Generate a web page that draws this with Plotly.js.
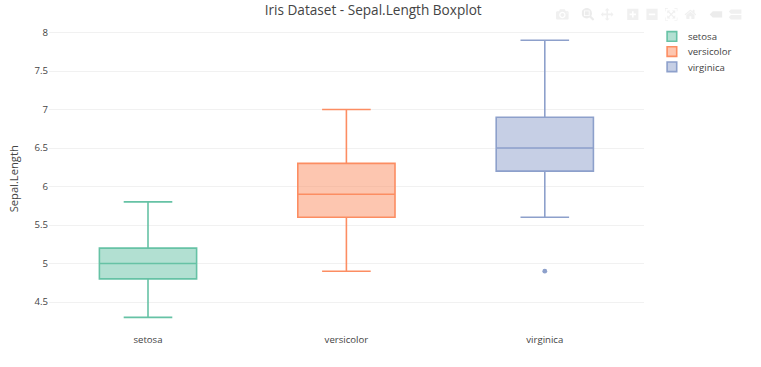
<!DOCTYPE html>
<html><head><meta charset="utf-8">
<script src="https://cdn.plot.ly/plotly-3.0.1.min.js"></script>
<style>
html,body{margin:0;padding:0;background:#fff;overflow:hidden}
#wrap{width:933px;height:459px;transform:scale(0.8);transform-origin:0 0}
.js-plotly-plot .plotly .modebar{top:6px !important}
</style>
</head><body><div id="wrap"><div id="chart"></div></div>
<script>
const species = ["setosa", "versicolor", "virginica"];
const colors = ["#66c2a5", "#fc8d62", "#8da0cb"];
const lowerFence = [4.3, 4.9, 5.6];
const q1 = [4.8, 5.6, 6.2];
const median = [5.0, 5.9, 6.5];
const q3 = [5.2, 6.3, 6.9];
const upperFence = [5.8, 7.0, 7.9];
const outlierSpecies = ["virginica"];
const outlierValues = [4.9];

const traces = species.map((s, i) => ({
  type: "box",
  name: s,
  x: [s],
  q1: [q1[i]],
  median: [median[i]],
  q3: [q3[i]],
  lowerfence: [lowerFence[i]],
  upperfence: [upperFence[i]],
  line: {color: colors[i], width: 2},
  marker: {color: colors[i]},
  boxpoints: false
}));
outlierSpecies.forEach((s, k) => {
  const i = species.indexOf(s);
  traces.push({
    type: "scatter", mode: "markers", x: [s], y: [outlierValues[k]],
    marker: {color: colors[i], size: 6}, showlegend: false, hoverinfo: "y"
  });
});

const layout = {
  width: 933, height: 459,
  margin: {l: 61, r: 128, t: 31, b: 43},
  font: {family: "'Open Sans', sans-serif", color: "#444", size: 12},
  title: {text: "Iris Dataset - Sepal.Length Boxplot", font: {size: 17, color: "#444"}, x: 0.5, y: 0.985, yanchor: "top"},
  showlegend: true,
  legend: {font: {size: 12}},
  modebar: {color: "rgba(68,68,68,0.08)", activecolor: "rgba(68,68,68,0.1)", bgcolor: "rgba(255,255,255,0)"},
  xaxis: {type: "category", categoryorder: "array", categoryarray: species, showgrid: false, zeroline: false, showline: false, ticks: ""},
  yaxis: {title: {text: "Sepal.Length", font: {size: 14}}, gridcolor: "#eee", zeroline: false, showline: false, ticks: "", dtick: 0.5},
  plot_bgcolor: "#fff", paper_bgcolor: "#fff"
};
Plotly.newPlot("chart", traces, layout, {
  displayModeBar: true, displaylogo: false,
  modeBarButtonsToRemove: ["select2d", "lasso2d"],
  modeBarButtonsToAdd: ["hoverclosest", "hovercompare"]
});
</script></body></html>
